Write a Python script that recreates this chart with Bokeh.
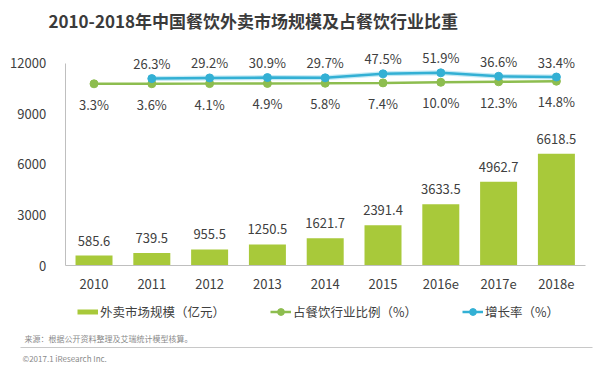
from bokeh.plotting import figure
from bokeh.models import (Range1d, FixedTicker, ColumnDataSource, Label, Legend,
                          LegendItem, BoxAnnotation)
from bokeh.core.properties import value
from bokeh.embed import file_html
from bokeh.resources import INLINE

# ---------------- data ----------------
years = ["2010", "2011", "2012", "2013", "2014", "2015", "2016e", "2017e", "2018e"]
market = [585.6, 739.5, 955.5, 1250.5, 1621.7, 2391.4, 3633.5, 4962.7, 6618.5]
share = [3.3, 3.6, 4.1, 4.9, 5.8, 7.4, 10.0, 12.3, 14.8]
growth_years = ["2011", "2012", "2013", "2014", "2015", "2016e", "2017e", "2018e"]
growth = [26.3, 29.2, 30.9, 29.7, 47.5, 51.9, 36.6, 33.4]
y_ticks = [0, 3000, 6000, 9000, 12000]

title_text = "2010-2018年中国餐饮外卖市场规模及占餐饮行业比重"
legend_labels = ["外卖市场规模（亿元）", "占餐饮行业比例（%）", "增长率（%）"]
source_text = "来源：根据公开资料整理及艾瑞统计模型核算。"
copyright_text = "©2017.1 iResearch Inc."

# category positions on the x scale
pos = {y: i for i, y in enumerate(years)}
x_market = [pos[y] for y in years]
x_growth = [pos[y] for y in growth_years]

# ---------------- style ----------------
FONT = "Noto Sans CJK SC"
BAR = "#a8c93a"
GREEN = "#8dbd4f"
CYAN = "#33b0d4"
TXT = "#404040"
AXIS = "#bfbfbf"
W, H = 600, 372

p = figure(width=W, height=H, x_range=Range1d(-1.618, 8.763), y_range=Range1d(-6340.7, 15703.7),
           output_backend="svg", toolbar_location=None, min_border=0)
p.extra_y_ranges = {"pct": Range1d(-1274.1, 371.9)}
p.outline_line_color = None
p.xgrid.grid_line_color = None
p.ygrid.grid_line_color = None

# axes (drawn at fixed positions inside the canvas)
p.yaxis.fixed_location = -0.5
p.yaxis.ticker = FixedTicker(ticks=y_ticks)
p.yaxis.bounds = (0, 12000)
p.yaxis.major_tick_line_color = None
p.yaxis.minor_tick_line_color = None
p.yaxis.axis_line_color = AXIS
p.yaxis.major_label_standoff = 13
p.yaxis.major_label_text_font = FONT
p.yaxis.major_label_text_font_size = "13px"
p.yaxis.major_label_text_color = TXT

p.xaxis.fixed_location = 0
p.xaxis.ticker = FixedTicker(ticks=x_market)
p.xaxis.major_label_overrides = {i: y for i, y in zip(x_market, years)}
p.xaxis.bounds = (-0.5, len(years) - 0.5)
p.xaxis.major_tick_line_color = None
p.xaxis.minor_tick_line_color = None
p.xaxis.axis_line_color = AXIS
p.xaxis.major_label_standoff = 7
p.xaxis.major_label_text_font = FONT
p.xaxis.major_label_text_font_size = "13px"
p.xaxis.major_label_text_color = TXT

# bars
bar_src = ColumnDataSource(dict(x=x_market, top=market, lab=[f"{v:.1f}" for v in market]))
p.vbar(x="x", top="top", width=0.64, source=bar_src, fill_color=BAR, line_color=None)
p.text(x="x", y="top", text="lab", source=bar_src, y_offset=-15, text_align="center",
       text_baseline="middle", text_font=value(FONT), text_font_size="13px", text_color=TXT)
bar_leg = p.line(x="x", y="top", source=bar_src, line_width=5, line_color=BAR, visible=False)

# share of catering industry
sh_src = ColumnDataSource(dict(x=x_market, y=share, lab=[f"{v:.1f}%" for v in share]))
l1 = p.line(x="x", y="y", source=sh_src, y_range_name="pct", line_color=GREEN, line_width=2.5)
s1 = p.scatter(x="x", y="y", source=sh_src, y_range_name="pct", size=8,
               fill_color=GREEN, line_color=GREEN)
p.text(x="x", y="y", text="lab", source=sh_src, y_range_name="pct", y_offset=20.5,
       text_align="center", text_baseline="middle", text_font=value(FONT),
       text_font_size="13px", text_color=TXT)

# growth rate
gr_src = ColumnDataSource(dict(x=x_growth, y=growth, lab=[f"{v:.1f}%" for v in growth]))
p.line(x="x", y="y", source=gr_src, y_range_name="pct", line_color="#c4eaf5", line_width=5)
l2 = p.line(x="x", y="y", source=gr_src, y_range_name="pct", line_color=CYAN, line_width=2.5)
s2 = p.scatter(x="x", y="y", source=gr_src, y_range_name="pct", size=8,
               fill_color=CYAN, line_color=CYAN)
p.text(x="x", y="y", text="lab", source=gr_src, y_range_name="pct", y_offset=-15,
       text_align="center", text_baseline="middle", text_font=value(FONT),
       text_font_size="13px", text_color=TXT)

# legend
legend = Legend(items=[LegendItem(label=legend_labels[0], renderers=[bar_leg]),
                       LegendItem(label=legend_labels[1], renderers=[l1, s1]),
                       LegendItem(label=legend_labels[2], renderers=[l2, s2])],
                location=(77, 51.5), orientation="horizontal", padding=0, margin=0,
                spacing=45, label_standoff=2, glyph_width=21, glyph_height=17,
                label_height=17, border_line_color=None, background_fill_alpha=0,
                label_text_font=FONT, label_text_font_size="12.5px", label_text_color=TXT)
p.add_layout(legend)

# title and footer (screen px from bottom-left)
p.add_layout(Label(x=48, y=H - 19.5, x_units="screen", y_units="screen", text=title_text,
                   text_font=FONT, text_font_size="17px", text_font_style="bold",
                   text_color="#3b3b3b", text_baseline="middle"))
p.add_layout(Label(x=24, y=H - 338, x_units="screen", y_units="screen", text=source_text,
                   text_font=FONT, text_font_size="8px", text_color="#8a8a8a",
                   text_baseline="middle"))
p.add_layout(BoxAnnotation(left=20, right=592, bottom=H - 347.5, top=H - 346.5,
                           left_units="screen", right_units="screen", bottom_units="screen",
                           top_units="screen", fill_color="#c8c8c8", fill_alpha=1,
                           line_color=None))
p.add_layout(Label(x=22, y=H - 358, x_units="screen", y_units="screen", text=copyright_text,
                   text_font=FONT, text_font_size="8px", text_color="#8a8a8a",
                   text_baseline="middle"))

open("out.html", "w").write(file_html(p, INLINE))
